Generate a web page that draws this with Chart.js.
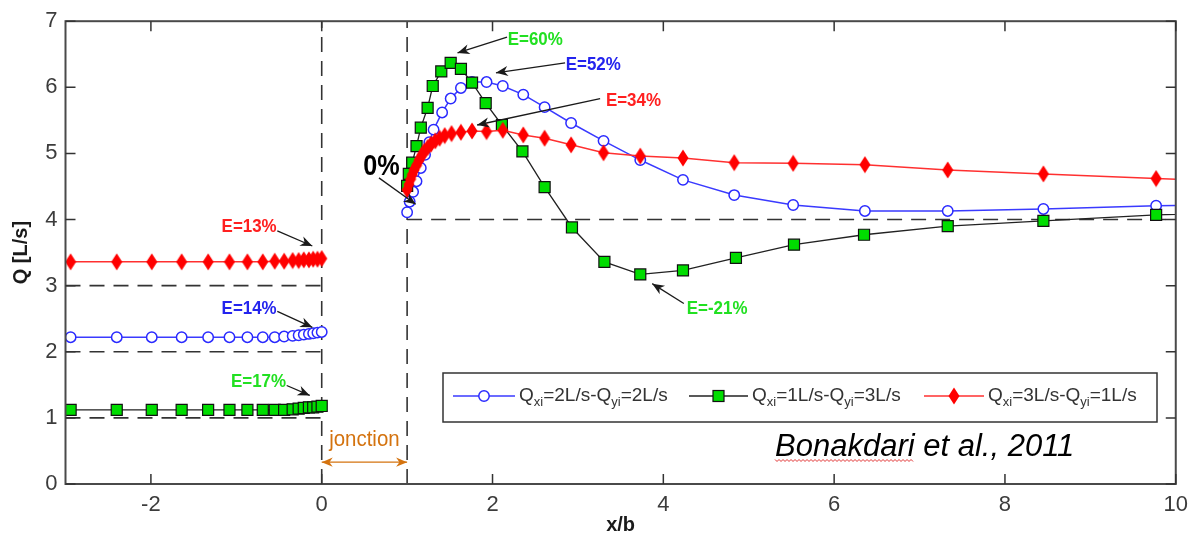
<!DOCTYPE html>
<html>
<head>
<meta charset="utf-8">
<script src="https://cdn.jsdelivr.net/npm/chart.js@4.4.1/dist/chart.umd.min.js"></script>
<style>
  html, body { margin: 0; padding: 0; background: #fff; }
  #wrap { width: 1196px; height: 537px; }
</style>
</head>
<body>
<div id="wrap"><canvas id="chart" width="1196" height="537"></canvas></div>
<script>
// upstream stations (x/b < 0), shared by the three runs
const xLeft = [-2.94, -2.40, -1.99, -1.64, -1.33, -1.08, -0.87, -0.69, -0.55, -0.44, -0.34, -0.27, -0.21, -0.15, -0.10, -0.05, 0.0];
const qBlueLeft  = [2.22, 2.22, 2.22, 2.22, 2.22, 2.22, 2.22, 2.22, 2.22, 2.23, 2.24, 2.25, 2.26, 2.27, 2.28, 2.29, 2.30];
const qGreenLeft = [1.12, 1.12, 1.12, 1.12, 1.12, 1.12, 1.12, 1.12, 1.12, 1.12, 1.13, 1.14, 1.15, 1.16, 1.16, 1.17, 1.18];
const qRedLeft   = [3.36, 3.36, 3.36, 3.36, 3.36, 3.36, 3.36, 3.36, 3.37, 3.37, 3.38, 3.38, 3.39, 3.39, 3.40, 3.40, 3.41];

// downstream of the junction (x/b > 1); last point lies past the axis end
const xBlueRight = [1.00, 1.03, 1.07, 1.11, 1.16, 1.21, 1.26, 1.31, 1.41, 1.51, 1.63, 1.76, 1.93, 2.12, 2.36, 2.61, 2.92, 3.30, 3.73, 4.23, 4.83, 5.52, 6.36, 7.33, 8.45, 9.77, 11];
const qBlueRight = [4.11, 4.27, 4.42, 4.58, 4.78, 4.98, 5.17, 5.36, 5.62, 5.83, 5.99, 6.08, 6.08, 6.02, 5.89, 5.70, 5.46, 5.19, 4.90, 4.60, 4.37, 4.22, 4.13, 4.13, 4.16, 4.21, 4.23];

const xGreenRight = [1.00, 1.02, 1.06, 1.11, 1.16, 1.24, 1.30, 1.40, 1.51, 1.63, 1.76, 1.92, 2.11, 2.35, 2.61, 2.93, 3.31, 3.73, 4.23, 4.85, 5.53, 6.35, 7.33, 8.45, 9.77, 11];
const qGreenRight = [4.51, 4.69, 4.86, 5.11, 5.39, 5.69, 6.02, 6.24, 6.37, 6.28, 6.07, 5.76, 5.43, 5.03, 4.49, 3.88, 3.36, 3.17, 3.23, 3.42, 3.62, 3.77, 3.90, 3.98, 4.07, 4.11];

const xRedRight = [1.00, 1.02, 1.04, 1.06, 1.08, 1.11, 1.14, 1.17, 1.20, 1.24, 1.28, 1.33, 1.38, 1.44, 1.52, 1.63, 1.76, 1.93, 2.12, 2.36, 2.61, 2.92, 3.30, 3.73, 4.23, 4.83, 5.52, 6.36, 7.33, 8.45, 9.77, 11];
const qRedRight = [4.45, 4.53, 4.61, 4.68, 4.75, 4.82, 4.90, 4.97, 5.03, 5.09, 5.14, 5.19, 5.23, 5.27, 5.30, 5.32, 5.34, 5.33, 5.35, 5.28, 5.23, 5.13, 5.01, 4.96, 4.93, 4.86, 4.85, 4.83, 4.75, 4.69, 4.62, 4.57];

// reference levels (dashed)
const refLeftLevels = [1, 2, 3];
const refRightLevel = 4;
const junctionEdges = [0, 1];

const xTicks = [-2, 0, 2, 4, 6, 8, 10];
const yTicks = [0, 1, 2, 3, 4, 5, 6, 7];

// text labels with arrows, in data units
const notes = [
  { text: 'E=13%', color: '#ff2020', x: -0.85, y: 3.88, from: [-0.52, 3.83], to: [-0.11, 3.60] },
  { text: 'E=14%', color: '#2424ee', x: -0.85, y: 2.65, from: [-0.52, 2.61], to: [-0.11, 2.37] },
  { text: 'E=17%', color: '#22e022', x: -0.74, y: 1.54, from: [-0.41, 1.49], to: [-0.14, 1.34] },
  { text: 'E=60%', color: '#22e022', x: 2.50, y: 6.71, from: [2.17, 6.76], to: [1.59, 6.52] },
  { text: 'E=52%', color: '#2424ee', x: 3.18, y: 6.33, from: [2.85, 6.37], to: [2.04, 6.22] },
  { text: 'E=34%', color: '#ff2020', x: 3.65, y: 5.80, from: [3.26, 5.83], to: [1.82, 5.43] },
  { text: 'E=-21%', color: '#22e022', x: 4.63, y: 2.65, from: [4.24, 2.73], to: [3.87, 3.03] }
];

const pts = (xs, ys) => xs.map((x, i) => ({ x: x, y: ys[i] }));
const gap = { x: 0.5, y: null };

const diamond = document.createElement('canvas');
diamond.width = 12; diamond.height = 18;
(function () {
  const dc = diamond.getContext('2d');
  dc.fillStyle = '#ff0000';
  dc.beginPath();
  dc.moveTo(6, 0.5); dc.lineTo(11.5, 9); dc.lineTo(6, 17.5); dc.lineTo(0.5, 9);
  dc.closePath();
  dc.fill();
})();

const refLine = (data) => ({
  data: data, borderColor: '#333', borderWidth: 1.6, borderDash: [15, 9],
  pointRadius: 0, showLine: true, fill: false
});

const datasets = [
  {
    label: 'red', data: [...pts(xLeft, qRedLeft), gap, ...pts(xRedRight, qRedRight)],
    borderColor: '#ff3030', borderWidth: 1.5, pointStyle: diamond,
    pointBackgroundColor: '#ff0000', pointBorderColor: '#ff0000', showLine: true
  },
  {
    label: 'green', data: [...pts(xLeft, qGreenLeft), gap, ...pts(xGreenRight, qGreenRight)],
    borderColor: '#222', borderWidth: 1.3, pointStyle: 'rect', pointRadius: 7.8,
    pointBackgroundColor: '#00dd00', pointBorderColor: '#111', pointBorderWidth: 1.2, showLine: true
  },
  {
    label: 'blue', data: [...pts(xLeft, qBlueLeft), gap, ...pts(xBlueRight, qBlueRight)],
    borderColor: '#3a3aff', borderWidth: 1.5, pointStyle: 'circle', pointRadius: 5.2,
    pointBackgroundColor: '#fff', pointBorderColor: '#2a2aff', pointBorderWidth: 1.5, showLine: true
  },
  ...refLeftLevels.map(q => refLine([{ x: -3, y: q }, { x: 0, y: q }])),
  refLine([{ x: 1, y: refRightLevel }, { x: 10, y: refRightLevel }]),
  ...junctionEdges.map(x => refLine([{ x: x, y: 0 }, { x: x, y: 7 }]))
];

function arrow(ctx, x1, y1, x2, y2, color, head, both) {
  ctx.save();
  ctx.strokeStyle = color; ctx.fillStyle = color; ctx.lineWidth = 1.3;
  ctx.beginPath(); ctx.moveTo(x1, y1); ctx.lineTo(x2, y2); ctx.stroke();
  const tip = (tx, ty, fx, fy) => {
    const a = Math.atan2(ty - fy, tx - fx);
    const c = Math.cos(a), s = Math.sin(a), w = head * 0.42;
    ctx.beginPath();
    ctx.moveTo(tx, ty);
    ctx.lineTo(tx - head * c + w * s, ty - head * s - w * c);
    ctx.lineTo(tx - head * 0.7 * c, ty - head * 0.7 * s);
    ctx.lineTo(tx - head * c - w * s, ty - head * s + w * c);
    ctx.closePath();
    ctx.fill();
  };
  tip(x2, y2, x1, y1);
  if (both) tip(x1, y1, x2, y2);
  ctx.restore();
}

function text(ctx, str, x, y, font, color, sx) {
  ctx.save();
  ctx.font = font; ctx.fillStyle = color;
  ctx.textAlign = 'center'; ctx.textBaseline = 'middle';
  ctx.translate(x, y); ctx.scale(sx || 1, 1);
  ctx.fillText(str, 0, 0);
  ctx.restore();
}

// Q with subscripts, drawn left to right, returns end x
function subText(ctx, parts, x, y) {
  for (const p of parts) {
    ctx.font = p.sub ? '13px "Liberation Sans", Arial' : '19px "Liberation Sans", Arial';
    ctx.fillText(p.t, x, p.sub ? y + 6 : y);
    x += ctx.measureText(p.t).width;
  }
  return x;
}

const decor = {
  id: 'decor',
  afterDatasetsDraw(chart) {
    const { ctx, chartArea: a, scales: { x: sx, y: sy } } = chart;
    const px = v => sx.getPixelForValue(v), py = v => sy.getPixelForValue(v);

    // frame + inward ticks
    ctx.save();
    ctx.strokeStyle = '#4a4a4a'; ctx.lineWidth = 2;
    ctx.strokeRect(a.left, a.top, a.right - a.left, a.bottom - a.top);
    ctx.lineWidth = 1.5; ctx.strokeStyle = '#333';
    ctx.beginPath();
    xTicks.forEach(v => {
      const X = px(v);
      ctx.moveTo(X, a.bottom); ctx.lineTo(X, a.bottom - 10);
      ctx.moveTo(X, a.top); ctx.lineTo(X, a.top + 10);
    });
    yTicks.forEach(v => {
      const Y = py(v);
      ctx.moveTo(a.left, Y); ctx.lineTo(a.left + 10, Y);
      ctx.moveTo(a.right, Y); ctx.lineTo(a.right - 10, Y);
    });
    ctx.stroke();
    ctx.restore();

    // E labels and arrows
    notes.forEach(n => {
      arrow(ctx, px(n.from[0]), py(n.from[1]), px(n.to[0]), py(n.to[1]), '#1a1a1a', 12, false);
      text(ctx, n.text, px(n.x), py(n.y), 'bold 18px "Liberation Sans", Arial', n.color, 0.94);
    });
    arrow(ctx, px(0.67), py(4.63), px(1.10), py(4.23), '#1a1a1a', 12, false);
    text(ctx, '0%', px(0.70), py(4.80), 'bold 30px "Liberation Sans", Arial', '#000', 0.84);

    // junction span
    arrow(ctx, px(0), py(0.33), px(1), py(0.33), '#d4730f', 11, true);
    text(ctx, 'jonction', px(0.5), py(0.66), '22px "Liberation Sans", Arial', '#d4730f', 0.93);

    // source
    ctx.save();
    ctx.font = 'italic 31px "Liberation Sans", Arial';
    ctx.fillStyle = '#000'; ctx.textBaseline = 'alphabetic'; ctx.textAlign = 'left';
    const src = 'Bonakdari et al., 2011';
    const sw = ctx.measureText(src).width;
    const sxL = px(7.06) - sw / 2, base = py(0.59) + 11;
    ctx.fillText(src, sxL, base);
    const uw = ctx.measureText('Bonakdari').width;
    ctx.strokeStyle = '#e03030'; ctx.lineWidth = 1;
    ctx.beginPath();
    for (let i = 0, X = sxL; X <= sxL + uw; i++, X += 2) {
      const Y = base + 4 + (i % 2 ? 1.5 : -0.5);
      i ? ctx.lineTo(X, Y) : ctx.moveTo(X, Y);
    }
    ctx.stroke();
    ctx.restore();

    // legend
    ctx.save();
    const L = 443, T = 373, R = 1157, B = 422, cy = 396;
    ctx.fillStyle = '#fff'; ctx.fillRect(L, T, R - L, B - T);
    ctx.strokeStyle = '#333'; ctx.lineWidth = 1.5; ctx.strokeRect(L, T, R - L, B - T);
    const items = [
      { x0: 453, x1: 515, c: '#3a3aff', m: 'circle', parts: ['2', '2'] },
      { x0: 689, x1: 748, c: '#222', m: 'rect', parts: ['1', '3'] },
      { x0: 924, x1: 984, c: '#ff3030', m: 'diamond', parts: ['3', '1'] }
    ];
    items.forEach(it => {
      ctx.strokeStyle = it.c; ctx.lineWidth = 1.5;
      ctx.beginPath(); ctx.moveTo(it.x0, cy); ctx.lineTo(it.x1, cy); ctx.stroke();
      const mx = (it.x0 + it.x1) / 2;
      if (it.m === 'circle') {
        ctx.fillStyle = '#fff'; ctx.strokeStyle = '#2a2aff';
        ctx.beginPath(); ctx.arc(mx, cy, 5.2, 0, Math.PI * 2); ctx.fill(); ctx.stroke();
      } else if (it.m === 'rect') {
        ctx.fillStyle = '#00dd00'; ctx.strokeStyle = '#111'; ctx.lineWidth = 1.2;
        ctx.fillRect(mx - 5.5, cy - 5.5, 11, 11); ctx.strokeRect(mx - 5.5, cy - 5.5, 11, 11);
      } else {
        ctx.drawImage(diamond, mx - 6, cy - 9);
      }
      ctx.fillStyle = '#333'; ctx.textBaseline = 'middle'; ctx.textAlign = 'left';
      subText(ctx, [
        { t: 'Q' }, { t: 'xi', sub: true }, { t: '=' + it.parts[0] + 'L/s-Q' },
        { t: 'yi', sub: true }, { t: '=' + it.parts[1] + 'L/s' }
      ], it.x1 + 4, cy);
    });
    ctx.restore();
  }
};

new Chart(document.getElementById('chart'), {
  type: 'scatter',
  data: { datasets: datasets },
  options: {
    responsive: false,
    animation: false,
    devicePixelRatio: 1,
    layout: { padding: { top: 20, right: 19, left: 0, bottom: 0 } },
    plugins: { legend: { display: false }, tooltip: { enabled: false } },
    scales: {
      x: {
        type: 'linear', min: -3, max: 10,
        grid: { display: false, drawTicks: false },
        border: { display: false },
        afterBuildTicks: s => { s.ticks = xTicks.map(v => ({ value: v })); },
        afterFit: s => { s.height = 53; },
        ticks: { padding: 8, color: '#3c3c3c', font: { family: '"Liberation Sans", Arial', size: 22 } },
        title: { display: true, text: 'x/b', color: '#1a1a1a', padding: { top: 0, bottom: 0 },
                 font: { family: '"Liberation Sans", Arial', size: 20, weight: 'bold' } }
      },
      y: {
        min: 0, max: 7,
        grid: { display: false, drawTicks: false },
        border: { display: false },
        afterBuildTicks: s => { s.ticks = yTicks.map(v => ({ value: v })); },
        afterFit: s => { s.width = 65.5; },
        ticks: { padding: 8, color: '#3c3c3c', font: { family: '"Liberation Sans", Arial', size: 22 } },
        title: { display: true, text: 'Q [L/s]', color: '#1a1a1a', padding: { top: 9, bottom: 0 },
                 font: { family: '"Liberation Sans", Arial', size: 20, weight: 'bold' } }
      }
    }
  },
  plugins: [decor]
});
</script>
</body>
</html>
